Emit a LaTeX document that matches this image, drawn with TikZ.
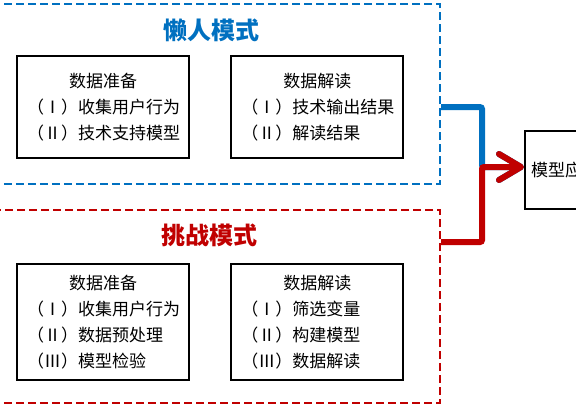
\documentclass[tikz,border=0pt]{standalone}
\usepackage{fontspec}
\setmainfont{Noto Sans CJK SC}
\usepackage{xcolor}
\usetikzlibrary{arrows.meta,calc,positioning}
\definecolor{lazyblue}{RGB}{0,112,192}
\definecolor{hardred}{RGB}{192,0,0}
\tikzset{
  stagebox/.style={draw, line width=2.2bp, text width=152bp, inner xsep=10bp, inner ysep=0pt, align=left, font=\fontsize{17bp}{26bp}\selectfont},
  zone/.style={draw, line width=2bp, dash pattern=on 8bp off 4bp, minimum width=460bp, anchor=north east},
  modetitle/.style={font=\fontsize{24bp}{28bp}\selectfont\bfseries},
  flow/.style={line width=6bp, rounded corners=2bp, -{Straight Barb[length=22bp, width=26bp, round]}}
}

\begin{document}
\begin{tikzpicture}[x=1bp, y=1bp,
    appbox/.style={draw, line width=2.2bp, inner xsep=6bp, minimum height=78bp, anchor=west, font=\fontsize{17bp}{26bp}\selectfont}
]
    \useasboundingbox (0,0) rectangle (576,406);
    \clip (0,0) rectangle (576,406);

    % Lazy mode
    \node[stagebox, minimum height=102bp, anchor=north west] (lazyprep) at (16,351) {\makebox[\linewidth]{数据准备}\\（Ⅰ）收集用户行为\\（Ⅱ）技术支持模型};
    \node[stagebox, minimum height=102bp, right=40bp of lazyprep] (lazyread) {\makebox[\linewidth]{数据解读}\\（Ⅰ）技术输出结果\\（Ⅱ）解读结果};
    \node[modetitle, text=lazyblue] (lazytitle) at (211,376) {懒人模式};
    \node[zone, draw=lazyblue, minimum height=180bp] (lazyzone) at (441,403) {};

    % Challenge mode
    \node[stagebox, minimum height=116bp, below=104bp of lazyprep] (hardprep) {\makebox[\linewidth]{数据准备}\\（Ⅰ）收集用户行为\\（Ⅱ）数据预处理\\（Ⅲ）模型检验};
    \node[stagebox, minimum height=116bp, right=40bp of hardprep] (hardread) {\makebox[\linewidth]{数据解读}\\（Ⅰ）筛选变量\\（Ⅱ）构建模型\\（Ⅲ）数据解读};
    \node[modetitle, text=hardred] (hardtitle) at (209,171) {挑战模式};
    \node[zone, draw=hardred, minimum height=193bp] (hardzone) at (441,197) {};

    % Application
    \node[appbox] (app) at (524,236) {模型应用};
    \coordinate (joint) at (482,239);
    \coordinate (hardout) at ($(hardzone.north east)+(0,-33)$);

    \draw[flow, lazyblue] (lazyzone.east |- lazyread.east) -| (joint) -- (app.west |- joint);
    \draw[flow, hardred] (hardout) -| (joint) -- (app.west |- joint);

\end{tikzpicture}
\end{document}
